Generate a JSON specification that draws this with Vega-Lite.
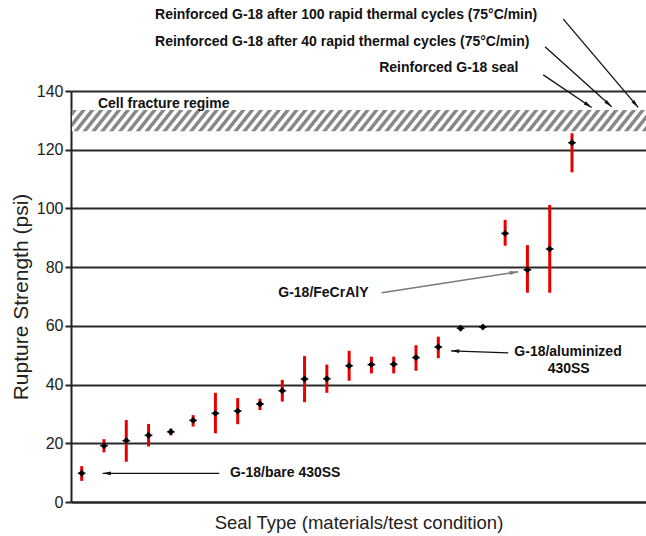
{
  "$schema": "https://vega.github.io/schema/vega-lite/v6.json",
  "width": 575,
  "height": 411,
  "autosize": {"type": "none"},
  "padding": {"left": 71, "top": 91, "right": 0, "bottom": 34},
  "background": "white",
  "config": {
    "view": {"stroke": null},
    "font": "Liberation Sans"
  },
  "datasets": {
    "seals": [
      {"i": 1, "v": 9.8, "lo": 7.2, "hi": 12.2},
      {"i": 2, "v": 19.2, "lo": 16.9, "hi": 21.4},
      {"i": 3, "v": 20.9, "lo": 13.7, "hi": 27.9},
      {"i": 4, "v": 22.7, "lo": 18.9, "hi": 26.6},
      {"i": 5, "v": 23.9, "lo": 22.7, "hi": 25.0},
      {"i": 6, "v": 27.8, "lo": 25.7, "hi": 29.6},
      {"i": 7, "v": 30.2, "lo": 23.4, "hi": 37.2},
      {"i": 8, "v": 31.0, "lo": 26.5, "hi": 35.4},
      {"i": 9, "v": 33.4, "lo": 31.3, "hi": 35.2},
      {"i": 10, "v": 37.9, "lo": 34.2, "hi": 41.6},
      {"i": 11, "v": 41.9, "lo": 34.0, "hi": 49.7},
      {"i": 12, "v": 42.0, "lo": 37.2, "hi": 46.8},
      {"i": 13, "v": 46.4, "lo": 41.3, "hi": 51.5},
      {"i": 14, "v": 46.8, "lo": 43.8, "hi": 49.5},
      {"i": 15, "v": 46.9, "lo": 43.8, "hi": 49.5},
      {"i": 16, "v": 49.2, "lo": 44.7, "hi": 53.4},
      {"i": 17, "v": 52.8, "lo": 49.0, "hi": 56.3},
      {"i": 18, "v": 59.2, "lo": 58.8, "hi": 59.6},
      {"i": 19, "v": 59.6, "lo": 59.4, "hi": 59.8},
      {"i": 20, "v": 91.5, "lo": 87.3, "hi": 96.1},
      {"i": 21, "v": 79.1, "lo": 71.3, "hi": 87.5},
      {"i": 22, "v": 86.2, "lo": 71.3, "hi": 101.2},
      {"i": 23, "v": 122.4, "lo": 112.3, "hi": 125.6}
    ],
    "band": [{"name": "Cell fracture regime", "lo": 126.3, "hi": 133.5}],
    "labels": [
      {"text": "Reinforced G-18 after 100 rapid thermal cycles (75°C/min)", "x": 4.29, "y": 165.9},
      {"text": "Reinforced G-18 after 40 rapid thermal cycles (75°C/min)", "x": 4.29, "y": 156.8},
      {"text": "Reinforced G-18 seal", "x": 14.35, "y": 147.7},
      {"text": "Cell fracture regime", "x": 1.73, "y": 135.6},
      {"text": "G-18/FeCrAlY", "x": 9.82, "y": 71.3},
      {"text": "G-18/bare 430SS", "x": 7.65, "y": 9.8}
    ],
    "clabels": [
      {"text": "G-18/aluminized", "x": 22.82, "y": 51.2},
      {"text": "430SS", "x": 22.85, "y": 45.2}
    ],
    "arrows": [
      {"name": "bare", "x": 7.17, "y": 9.78, "x2": 1.94, "y2": 9.78},
      {"name": "alum", "x": 20.14, "y": 50.8, "x2": 17.57, "y2": 51.5},
      {"name": "fecr", "x": 14.46, "y": 71.3, "x2": 20.59, "y2": 78.45},
      {"name": "c100", "x": 22.61, "y": 164.5, "x2": 25.97, "y2": 134.4},
      {"name": "c40", "x": 21.79, "y": 155.1, "x2": 24.78, "y2": 134.6},
      {"name": "seal", "x": 21.71, "y": 145.5, "x2": 23.88, "y2": 134.4}
    ]
  },
  "layer": [
    {
      "data": {"name": "band"},
      "mark": {
        "type": "rect",
        "fill": {
          "gradient": "linear", "x1": 0, "y1": 0, "x2": 1.03, "y2": 0.03,
          "stops": [
            {"offset":0,"color":"#fff"},{"offset":0.002,"color":"#888"},{"offset":0.0075,"color":"#888"},{"offset":0.0095,"color":"#fff"},
            {"offset":0.015,"color":"#fff"},{"offset":0.017,"color":"#888"},{"offset":0.0225,"color":"#888"},{"offset":0.0245,"color":"#fff"},
            {"offset":0.03,"color":"#fff"},{"offset":0.032,"color":"#888"},{"offset":0.0375,"color":"#888"},{"offset":0.0395,"color":"#fff"},
            {"offset":0.045,"color":"#fff"},{"offset":0.047,"color":"#888"},{"offset":0.0525,"color":"#888"},{"offset":0.0545,"color":"#fff"},
            {"offset":0.06,"color":"#fff"},{"offset":0.062,"color":"#888"},{"offset":0.0675,"color":"#888"},{"offset":0.0695,"color":"#fff"},
            {"offset":0.075,"color":"#fff"},{"offset":0.077,"color":"#888"},{"offset":0.0825,"color":"#888"},{"offset":0.0845,"color":"#fff"},
            {"offset":0.09,"color":"#fff"},{"offset":0.092,"color":"#888"},{"offset":0.0975,"color":"#888"},{"offset":0.0995,"color":"#fff"},
            {"offset":0.105,"color":"#fff"},{"offset":0.107,"color":"#888"},{"offset":0.1125,"color":"#888"},{"offset":0.1145,"color":"#fff"},
            {"offset":0.12,"color":"#fff"},{"offset":0.122,"color":"#888"},{"offset":0.1275,"color":"#888"},{"offset":0.1295,"color":"#fff"},
            {"offset":0.135,"color":"#fff"},{"offset":0.137,"color":"#888"},{"offset":0.1425,"color":"#888"},{"offset":0.1445,"color":"#fff"},
            {"offset":0.15,"color":"#fff"},{"offset":0.152,"color":"#888"},{"offset":0.1575,"color":"#888"},{"offset":0.1595,"color":"#fff"},
            {"offset":0.165,"color":"#fff"},{"offset":0.167,"color":"#888"},{"offset":0.1725,"color":"#888"},{"offset":0.1745,"color":"#fff"},
            {"offset":0.18,"color":"#fff"},{"offset":0.182,"color":"#888"},{"offset":0.1875,"color":"#888"},{"offset":0.1895,"color":"#fff"},
            {"offset":0.195,"color":"#fff"},{"offset":0.197,"color":"#888"},{"offset":0.2025,"color":"#888"},{"offset":0.2045,"color":"#fff"},
            {"offset":0.21,"color":"#fff"},{"offset":0.212,"color":"#888"},{"offset":0.2175,"color":"#888"},{"offset":0.2195,"color":"#fff"},
            {"offset":0.225,"color":"#fff"},{"offset":0.227,"color":"#888"},{"offset":0.2325,"color":"#888"},{"offset":0.2345,"color":"#fff"},
            {"offset":0.24,"color":"#fff"},{"offset":0.242,"color":"#888"},{"offset":0.2475,"color":"#888"},{"offset":0.2495,"color":"#fff"},
            {"offset":0.255,"color":"#fff"},{"offset":0.257,"color":"#888"},{"offset":0.2625,"color":"#888"},{"offset":0.2645,"color":"#fff"},
            {"offset":0.27,"color":"#fff"},{"offset":0.272,"color":"#888"},{"offset":0.2775,"color":"#888"},{"offset":0.2795,"color":"#fff"},
            {"offset":0.285,"color":"#fff"},{"offset":0.287,"color":"#888"},{"offset":0.2925,"color":"#888"},{"offset":0.2945,"color":"#fff"},
            {"offset":0.3,"color":"#fff"},{"offset":0.302,"color":"#888"},{"offset":0.3075,"color":"#888"},{"offset":0.3095,"color":"#fff"},
            {"offset":0.315,"color":"#fff"},{"offset":0.317,"color":"#888"},{"offset":0.3225,"color":"#888"},{"offset":0.3245,"color":"#fff"},
            {"offset":0.33,"color":"#fff"},{"offset":0.332,"color":"#888"},{"offset":0.3375,"color":"#888"},{"offset":0.3395,"color":"#fff"},
            {"offset":0.345,"color":"#fff"},{"offset":0.347,"color":"#888"},{"offset":0.3525,"color":"#888"},{"offset":0.3545,"color":"#fff"},
            {"offset":0.36,"color":"#fff"},{"offset":0.362,"color":"#888"},{"offset":0.3675,"color":"#888"},{"offset":0.3695,"color":"#fff"},
            {"offset":0.375,"color":"#fff"},{"offset":0.377,"color":"#888"},{"offset":0.3825,"color":"#888"},{"offset":0.3845,"color":"#fff"},
            {"offset":0.39,"color":"#fff"},{"offset":0.392,"color":"#888"},{"offset":0.3975,"color":"#888"},{"offset":0.3995,"color":"#fff"},
            {"offset":0.405,"color":"#fff"},{"offset":0.407,"color":"#888"},{"offset":0.4125,"color":"#888"},{"offset":0.4145,"color":"#fff"},
            {"offset":0.42,"color":"#fff"},{"offset":0.422,"color":"#888"},{"offset":0.4275,"color":"#888"},{"offset":0.4295,"color":"#fff"},
            {"offset":0.435,"color":"#fff"},{"offset":0.437,"color":"#888"},{"offset":0.4425,"color":"#888"},{"offset":0.4445,"color":"#fff"},
            {"offset":0.45,"color":"#fff"},{"offset":0.452,"color":"#888"},{"offset":0.4575,"color":"#888"},{"offset":0.4595,"color":"#fff"},
            {"offset":0.465,"color":"#fff"},{"offset":0.467,"color":"#888"},{"offset":0.4725,"color":"#888"},{"offset":0.4745,"color":"#fff"},
            {"offset":0.48,"color":"#fff"},{"offset":0.482,"color":"#888"},{"offset":0.4875,"color":"#888"},{"offset":0.4895,"color":"#fff"},
            {"offset":0.495,"color":"#fff"},{"offset":0.497,"color":"#888"},{"offset":0.5025,"color":"#888"},{"offset":0.5045,"color":"#fff"},
            {"offset":0.51,"color":"#fff"},{"offset":0.512,"color":"#888"},{"offset":0.5175,"color":"#888"},{"offset":0.5195,"color":"#fff"},
            {"offset":0.525,"color":"#fff"},{"offset":0.527,"color":"#888"},{"offset":0.5325,"color":"#888"},{"offset":0.5345,"color":"#fff"},
            {"offset":0.54,"color":"#fff"},{"offset":0.542,"color":"#888"},{"offset":0.5475,"color":"#888"},{"offset":0.5495,"color":"#fff"},
            {"offset":0.555,"color":"#fff"},{"offset":0.557,"color":"#888"},{"offset":0.5625,"color":"#888"},{"offset":0.5645,"color":"#fff"},
            {"offset":0.57,"color":"#fff"},{"offset":0.572,"color":"#888"},{"offset":0.5775,"color":"#888"},{"offset":0.5795,"color":"#fff"},
            {"offset":0.585,"color":"#fff"},{"offset":0.587,"color":"#888"},{"offset":0.5925,"color":"#888"},{"offset":0.5945,"color":"#fff"},
            {"offset":0.6,"color":"#fff"},{"offset":0.602,"color":"#888"},{"offset":0.6075,"color":"#888"},{"offset":0.6095,"color":"#fff"},
            {"offset":0.615,"color":"#fff"},{"offset":0.617,"color":"#888"},{"offset":0.6225,"color":"#888"},{"offset":0.6245,"color":"#fff"},
            {"offset":0.63,"color":"#fff"},{"offset":0.632,"color":"#888"},{"offset":0.6375,"color":"#888"},{"offset":0.6395,"color":"#fff"},
            {"offset":0.645,"color":"#fff"},{"offset":0.647,"color":"#888"},{"offset":0.6525,"color":"#888"},{"offset":0.6545,"color":"#fff"},
            {"offset":0.66,"color":"#fff"},{"offset":0.662,"color":"#888"},{"offset":0.6675,"color":"#888"},{"offset":0.6695,"color":"#fff"},
            {"offset":0.675,"color":"#fff"},{"offset":0.677,"color":"#888"},{"offset":0.6825,"color":"#888"},{"offset":0.6845,"color":"#fff"},
            {"offset":0.69,"color":"#fff"},{"offset":0.692,"color":"#888"},{"offset":0.6975,"color":"#888"},{"offset":0.6995,"color":"#fff"},
            {"offset":0.705,"color":"#fff"},{"offset":0.707,"color":"#888"},{"offset":0.7125,"color":"#888"},{"offset":0.7145,"color":"#fff"},
            {"offset":0.72,"color":"#fff"},{"offset":0.722,"color":"#888"},{"offset":0.7275,"color":"#888"},{"offset":0.7295,"color":"#fff"},
            {"offset":0.735,"color":"#fff"},{"offset":0.737,"color":"#888"},{"offset":0.7425,"color":"#888"},{"offset":0.7445,"color":"#fff"},
            {"offset":0.75,"color":"#fff"},{"offset":0.752,"color":"#888"},{"offset":0.7575,"color":"#888"},{"offset":0.7595,"color":"#fff"},
            {"offset":0.765,"color":"#fff"},{"offset":0.767,"color":"#888"},{"offset":0.7725,"color":"#888"},{"offset":0.7745,"color":"#fff"},
            {"offset":0.78,"color":"#fff"},{"offset":0.782,"color":"#888"},{"offset":0.7875,"color":"#888"},{"offset":0.7895,"color":"#fff"},
            {"offset":0.795,"color":"#fff"},{"offset":0.797,"color":"#888"},{"offset":0.8025,"color":"#888"},{"offset":0.8045,"color":"#fff"},
            {"offset":0.81,"color":"#fff"},{"offset":0.812,"color":"#888"},{"offset":0.8175,"color":"#888"},{"offset":0.8195,"color":"#fff"},
            {"offset":0.825,"color":"#fff"},{"offset":0.827,"color":"#888"},{"offset":0.8325,"color":"#888"},{"offset":0.8345,"color":"#fff"},
            {"offset":0.84,"color":"#fff"},{"offset":0.842,"color":"#888"},{"offset":0.8475,"color":"#888"},{"offset":0.8495,"color":"#fff"},
            {"offset":0.855,"color":"#fff"},{"offset":0.857,"color":"#888"},{"offset":0.8625,"color":"#888"},{"offset":0.8645,"color":"#fff"},
            {"offset":0.87,"color":"#fff"},{"offset":0.872,"color":"#888"},{"offset":0.8775,"color":"#888"},{"offset":0.8795,"color":"#fff"},
            {"offset":0.885,"color":"#fff"},{"offset":0.887,"color":"#888"},{"offset":0.8925,"color":"#888"},{"offset":0.8945,"color":"#fff"},
            {"offset":0.9,"color":"#fff"},{"offset":0.902,"color":"#888"},{"offset":0.9075,"color":"#888"},{"offset":0.9095,"color":"#fff"},
            {"offset":0.915,"color":"#fff"},{"offset":0.917,"color":"#888"},{"offset":0.9225,"color":"#888"},{"offset":0.9245,"color":"#fff"},
            {"offset":0.93,"color":"#fff"},{"offset":0.932,"color":"#888"},{"offset":0.9375,"color":"#888"},{"offset":0.9395,"color":"#fff"},
            {"offset":0.945,"color":"#fff"},{"offset":0.947,"color":"#888"},{"offset":0.9525,"color":"#888"},{"offset":0.9545,"color":"#fff"},
            {"offset":0.96,"color":"#fff"},{"offset":0.962,"color":"#888"},{"offset":0.9675,"color":"#888"},{"offset":0.9695,"color":"#fff"},
            {"offset":0.975,"color":"#fff"},{"offset":0.977,"color":"#888"},{"offset":0.9825,"color":"#888"},{"offset":0.9845,"color":"#fff"},
            {"offset":0.99,"color":"#fff"},{"offset":0.992,"color":"#888"},{"offset":0.9975,"color":"#888"},{"offset":0.9995,"color":"#fff"}
          ]
        }
      },
      "encoding": {
        "x": {"datum": 0.56, "type": "quantitative", "scale": {"domain": [0.52, 26.32], "nice": false, "zero": false},
          "axis": {"title": "Seal Type (materials/test condition)", "labels": false, "ticks": false, "grid": false,
            "domain": true, "domainColor": "#222", "domainWidth": 2,
            "titleFont": "Liberation Sans", "titleFontSize": 18.5, "titleFontWeight": "normal", "titleColor": "#222", "titlePadding": 11}},
        "x2": {"datum": 26.32},
        "y": {"field": "hi", "type": "quantitative", "scale": {"domain": [0, 140], "nice": false, "zero": true},
          "axis": {"title": "Rupture Strength (psi)", "values": [0, 20, 40, 60, 80, 100, 120, 140],
            "labelFont": "Liberation Sans", "labelFontSize": 16, "labelColor": "#222", "labelPadding": 2,
            "tickSize": 6, "tickColor": "#222", "tickWidth": 2,
            "domainColor": "#222", "domainWidth": 2,
            "grid": true, "gridColor": "#2a2a2a", "gridWidth": 1.8,
            "titleFont": "Liberation Sans", "titleFontSize": 21, "titleFontWeight": "normal", "titleColor": "#222", "titlePadding": 5}},
        "y2": {"field": "lo"}
      }
    },
    {
      "data": {"name": "seals"},
      "mark": {"type": "rule", "color": "#e60000", "strokeWidth": 3},
      "encoding": {
        "x": {"field": "i", "type": "quantitative", "scale": {"domain": [0.52, 26.32], "nice": false, "zero": false}},
        "y": {"field": "lo", "type": "quantitative", "scale": {"domain": [0, 140], "nice": false, "zero": true}},
        "y2": {"field": "hi"}
      }
    },
    {
      "data": {"name": "seals"},
      "mark": {"type": "tick", "orient": "horizontal", "color": "#000", "size": 8, "thickness": 1.5},
      "encoding": {
        "x": {"field": "i", "type": "quantitative", "scale": {"domain": [0.52, 26.32], "nice": false, "zero": false}},
        "y": {"field": "v", "type": "quantitative", "scale": {"domain": [0, 140], "nice": false, "zero": true}}
      }
    },
    {
      "data": {"name": "seals"},
      "mark": {"type": "point", "shape": "diamond", "filled": true, "color": "#000", "size": 48, "opacity": 1},
      "encoding": {
        "x": {"field": "i", "type": "quantitative", "scale": {"domain": [0.52, 26.32], "nice": false, "zero": false}},
        "y": {"field": "v", "type": "quantitative", "scale": {"domain": [0, 140], "nice": false, "zero": true}}
      }
    },
    {
      "data": {"name": "arrows"},
      "transform": [{"filter": "datum.name !== 'fecr'"}],
      "mark": {"type": "rule", "color": "#111", "strokeWidth": 1.3},
      "encoding": {
        "x": {"field": "x", "type": "quantitative", "scale": {"domain": [0.52, 26.32], "nice": false, "zero": false}},
        "y": {"field": "y", "type": "quantitative", "scale": {"domain": [0, 140], "nice": false, "zero": true}},
        "x2": {"field": "x2"},
        "y2": {"field": "y2"}
      }
    },
    {
      "data": {"name": "arrows"},
      "transform": [{"filter": "datum.name === 'fecr'"}],
      "mark": {"type": "rule", "color": "#7a7a7a", "strokeWidth": 1.6},
      "encoding": {
        "x": {"field": "x", "type": "quantitative", "scale": {"domain": [0.52, 26.32], "nice": false, "zero": false}},
        "y": {"field": "y", "type": "quantitative", "scale": {"domain": [0, 140], "nice": false, "zero": true}},
        "x2": {"field": "x2"},
        "y2": {"field": "y2"}
      }
    },
    {
      "data": {"name": "arrows"},
      "transform": [{"filter": "datum.name === 'bare'"}],
      "mark": {"type": "point", "shape": "M0,0L-0.5,2.2L0.5,2.2Z", "filled": true, "color": "#111", "opacity": 1, "size": 56, "angle": 270},
      "encoding": {
        "x": {"field": "x2", "type": "quantitative", "scale": {"domain": [0.52, 26.32], "nice": false, "zero": false}},
        "y": {"field": "y2", "type": "quantitative", "scale": {"domain": [0, 140], "nice": false, "zero": true}}
      }
    },
    {
      "data": {"name": "arrows"},
      "transform": [{"filter": "datum.name === 'alum'"}],
      "mark": {"type": "point", "shape": "M0,0L-0.5,2.2L0.5,2.2Z", "filled": true, "color": "#111", "opacity": 1, "size": 56, "angle": 272},
      "encoding": {
        "x": {"field": "x2", "type": "quantitative", "scale": {"domain": [0.52, 26.32], "nice": false, "zero": false}},
        "y": {"field": "y2", "type": "quantitative", "scale": {"domain": [0, 140], "nice": false, "zero": true}}
      }
    },
    {
      "data": {"name": "arrows"},
      "transform": [{"filter": "datum.name === 'fecr'"}],
      "mark": {"type": "point", "shape": "M0,0L-0.5,2.2L0.5,2.2Z", "filled": true, "color": "#7a7a7a", "opacity": 1, "size": 64, "angle": 81.3},
      "encoding": {
        "x": {"field": "x2", "type": "quantitative", "scale": {"domain": [0.52, 26.32], "nice": false, "zero": false}},
        "y": {"field": "y2", "type": "quantitative", "scale": {"domain": [0, 140], "nice": false, "zero": true}}
      }
    },
    {
      "data": {"name": "arrows"},
      "transform": [{"filter": "datum.name === 'c100'"}],
      "mark": {"type": "point", "shape": "M0,0L-0.5,2.2L0.5,2.2Z", "filled": true, "color": "#111", "opacity": 1, "size": 56, "angle": 139.7},
      "encoding": {
        "x": {"field": "x2", "type": "quantitative", "scale": {"domain": [0.52, 26.32], "nice": false, "zero": false}},
        "y": {"field": "y2", "type": "quantitative", "scale": {"domain": [0, 140], "nice": false, "zero": true}}
      }
    },
    {
      "data": {"name": "arrows"},
      "transform": [{"filter": "datum.name === 'c40'"}],
      "mark": {"type": "point", "shape": "M0,0L-0.5,2.2L0.5,2.2Z", "filled": true, "color": "#111", "opacity": 1, "size": 56, "angle": 132},
      "encoding": {
        "x": {"field": "x2", "type": "quantitative", "scale": {"domain": [0.52, 26.32], "nice": false, "zero": false}},
        "y": {"field": "y2", "type": "quantitative", "scale": {"domain": [0, 140], "nice": false, "zero": true}}
      }
    },
    {
      "data": {"name": "arrows"},
      "transform": [{"filter": "datum.name === 'seal'"}],
      "mark": {"type": "point", "shape": "M0,0L-0.5,2.2L0.5,2.2Z", "filled": true, "color": "#111", "opacity": 1, "size": 56, "angle": 123.7},
      "encoding": {
        "x": {"field": "x2", "type": "quantitative", "scale": {"domain": [0.52, 26.32], "nice": false, "zero": false}},
        "y": {"field": "y2", "type": "quantitative", "scale": {"domain": [0, 140], "nice": false, "zero": true}}
      }
    },
    {
      "data": {"name": "labels"},
      "mark": {"type": "text", "align": "left", "baseline": "middle", "font": "Liberation Sans", "fontWeight": "bold", "fontSize": 14, "color": "#111"},
      "encoding": {
        "x": {"field": "x", "type": "quantitative", "scale": {"domain": [0.52, 26.32], "nice": false, "zero": false}},
        "y": {"field": "y", "type": "quantitative", "scale": {"domain": [0, 140], "nice": false, "zero": true}},
        "text": {"field": "text"}
      }
    },
    {
      "data": {"name": "clabels"},
      "mark": {"type": "text", "align": "center", "baseline": "middle", "font": "Liberation Sans", "fontWeight": "bold", "fontSize": 14, "color": "#111"},
      "encoding": {
        "x": {"field": "x", "type": "quantitative", "scale": {"domain": [0.52, 26.32], "nice": false, "zero": false}},
        "y": {"field": "y", "type": "quantitative", "scale": {"domain": [0, 140], "nice": false, "zero": true}},
        "text": {"field": "text"}
      }
    }
  ]
}
